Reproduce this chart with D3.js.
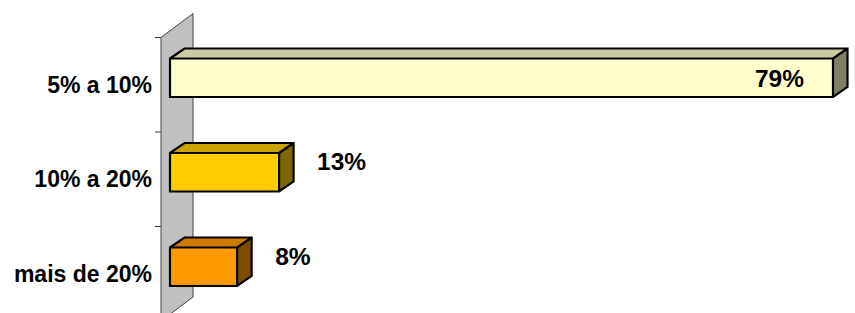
<!DOCTYPE html>
<html>
<head>
<meta charset="utf-8">
<script src="https://cdn.jsdelivr.net/npm/d3@7"></script>
<style>
  html, body { margin: 0; padding: 0; background: #fff; }
  svg { display: block; font-family: "Liberation Sans", Arial, sans-serif; }
</style>
</head>
<body>
<div id="chart"></div>
<script>
// chart data
const categories = ['5% a 10%', '10% a 20%', 'mais de 20%'];
const values = [79, 13, 8];
const valueLabels = ['79%', '13%', '8%'];
const colors = ['#FFFFCC', '#FFCC00', '#FF9900'];

const width = 855, height = 313;
const wallX = 161;            // front edge of the side wall
const wallDepth = { dx: 32, dy: -24 };
const barStart = { dx: 9, dy: -7 };   // depth of bar front face
const barDepth = { dx: 14.5, dy: -10 };
const barH = 38.5;

const svg = d3.select('#chart').append('svg')
  .attr('width', width)
  .attr('height', height);

const y = d3.scaleBand()
  .domain(categories)
  .range([37.5, 321]);

const x = d3.scaleLinear()
  .domain([0, 79])
  .range([0, 663]);

// side wall
const wallTop = 37.5, wallBottom = 321;
svg.append('polygon')
  .attr('points', [
    [wallX, wallTop],
    [wallX + wallDepth.dx, wallTop + wallDepth.dy],
    [wallX + wallDepth.dx, wallBottom + wallDepth.dy],
    [wallX, wallBottom]
  ].map(p => p.join(',')).join(' '))
  .attr('fill', '#C0C0C0')
  .attr('stroke', '#444')
  .attr('stroke-width', 1);

// category axis (ticks on the wall's front edge)
const axis = d3.axisLeft(y).tickSize(0).tickPadding(9).tickSizeOuter(0);
const gAxis = svg.append('g')
  .attr('transform', `translate(${wallX},0)`)
  .call(axis);
gAxis.select('.domain').remove();
gAxis.selectAll('text')
  .attr('font-size', 23)
  .attr('font-weight', 'bold')
  .attr('fill', '#000')
  .attr('dy', '0.35em');

// tick marks at the band boundaries
const bounds = categories.map(c => y(c)).concat([y(categories[categories.length - 1]) + y.bandwidth()]);
svg.append('g').selectAll('line')
  .data(bounds)
  .join('line')
  .attr('x1', wallX - 6)
  .attr('x2', wallX)
  .attr('y1', d => d)
  .attr('y2', d => d)
  .attr('stroke', '#444')
  .attr('stroke-width', 1);

const shade = (c, k) => {
  const r = d3.rgb(c);
  return d3.rgb(r.r * k, r.g * k, r.b * k).formatHex();
};

const rows = categories.map((c, i) => ({ cat: c, value: values[i], label: valueLabels[i], color: colors[i] }));

const bars = svg.append('g').selectAll('g')
  .data(rows)
  .join('g');

bars.each(function (d) {
  const g = d3.select(this);
  const x0 = wallX + barStart.dx;
  const x1 = x0 + x(d.value);
  const cy = y(d.cat) + y.bandwidth() / 2 + barStart.dy;
  const y0 = cy - barH / 2, y1 = cy + barH / 2;
  const dx = barDepth.dx, dy = barDepth.dy;
  const pts = a => a.map(p => p.join(',')).join(' ');

  // top face
  g.append('polygon')
    .attr('points', pts([[x0, y0], [x0 + dx, y0 + dy], [x1 + dx, y0 + dy], [x1, y0]]))
    .attr('fill', shade(d.color, 0.8));
  // side face
  g.append('polygon')
    .attr('points', pts([[x1, y0], [x1 + dx, y0 + dy], [x1 + dx, y1 + dy], [x1, y1]]))
    .attr('fill', shade(d.color, 0.5));
  // front face
  g.append('rect')
    .attr('x', x0).attr('y', y0)
    .attr('width', x1 - x0).attr('height', barH)
    .attr('fill', d.color);
  // outline
  g.append('path')
    .attr('d', `M${x0},${y0}L${x0 + dx},${y0 + dy}L${x1 + dx},${y0 + dy}L${x1 + dx},${y1 + dy}L${x1},${y1}L${x0},${y1}Z` +
               `M${x0},${y0}L${x1},${y0}L${x1},${y1}M${x1},${y0}L${x1 + dx},${y0 + dy}`)
    .attr('fill', 'none')
    .attr('stroke', '#000')
    .attr('stroke-width', 2.2)
    .attr('stroke-linejoin', 'miter');

  // value label
  const inside = x(d.value) > 300;
  g.append('text')
    .attr('x', inside ? x1 - 29 : x1 + 38)
    .attr('y', inside ? cy + 9.5 : cy - 2)
    .attr('text-anchor', inside ? 'end' : 'start')
    .attr('font-size', 24.5)
    .attr('font-weight', 'bold')
    .attr('fill', '#000')
    .text(d.label);
});
</script>
</body>
</html>
